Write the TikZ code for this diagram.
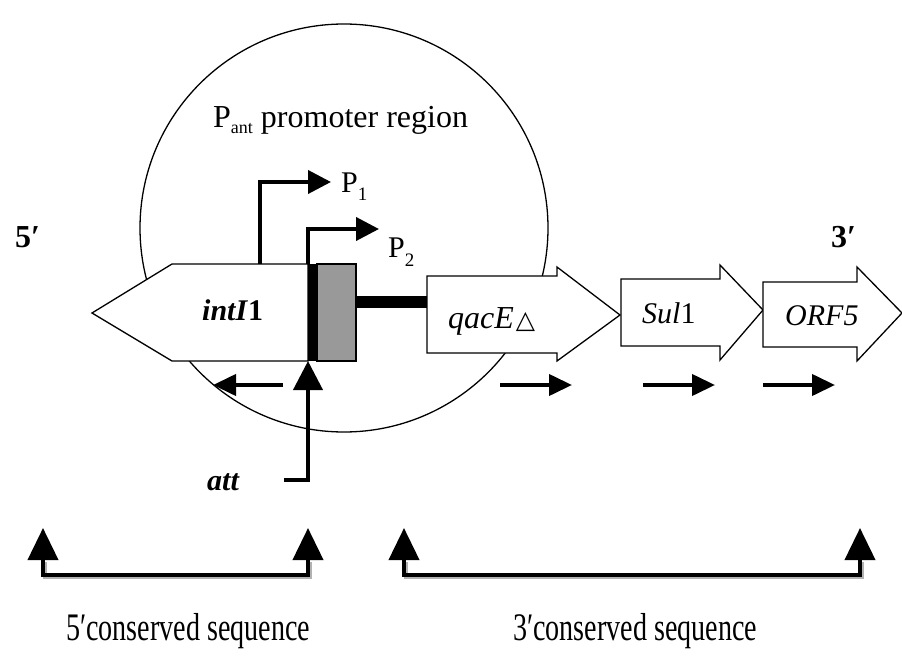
\documentclass[tikz,border=0pt]{standalone}
\usepackage{fontspec}
\setmainfont{Liberation Serif}
\newfontfamily\symfont{DejaVu Sans}
\usetikzlibrary{arrows.meta}
\begin{document}
\begin{tikzpicture}[x=1pt,y=-1pt,
  thin line/.style={line width=1.3pt},
  thick line/.style={line width=4pt},
  gene/.style={thin line, fill=white, line join=miter},
  promo/.style={thick line, -{Triangle[length=23pt,width=23pt]}},
  dirarrow/.style={thick line, -{Triangle[length=23pt,width=21pt]}},
  bigarrow/.style={thick line, {Triangle[length=32pt,width=30pt]}-{Triangle[length=32pt,width=30pt]}},
  shadowline/.style={line width=4pt, gray!60},
  lbl/.style={font=\fontsize{30}{30}\selectfont, inner sep=0pt, anchor=base west},
  primel/.style={font=\fontsize{32}{32}\selectfont\bfseries, inner sep=0pt, anchor=base west},
  bottomlbl/.style={font=\fontsize{39}{39}\selectfont, inner sep=0pt, anchor=base}
]
\useasboundingbox (0,0) rectangle (902,658);
% promoter region circle
\node[draw, thin line, circle, minimum size=408pt, inner sep=0pt] (circ) at (344,228) {};
\node[lbl, font=\fontsize{32}{32}\selectfont] (pant) at (213,128) {P\raisebox{-6pt}{\fontsize{18}{18}\selectfont ant} promoter region};

% intI1 gene (pointing left)
\draw[gene] (92,313) -- (172,264) -- (308,264) -- (308,361) -- (172,361) -- cycle;
\coordinate (intTop1) at (260,264);
\coordinate (intTop2) at (308,264);
\node[lbl, font=\fontsize{30}{30}\selectfont\bfseries\itshape] (intl) at (202,320) {intI\textup{1}};

% att site: black bar + gray box
\fill[black] (308,264) rectangle (317,361);
\draw[thin line, fill=gray!80] (317,264) rectangle (356,361);
\coordinate (boxR) at (356,302);
\coordinate (attTip) at (308,361);

% qacE gene
\draw[gene] (427,276) -- (557,276) -- (557,267) -- (620,315) -- (557,361) -- (557,353) -- (427,353) -- cycle;
\coordinate (qacL) at (427,302);
\node[lbl, font=\fontsize{32}{32}\selectfont\itshape] (qac) at (448,328) {qacE\kern2pt{\upshape\symfont\fontsize{25}{25}\selectfont △}};

% Sul1 gene
\draw[gene] (621,279) -- (720,279) -- (720,265) -- (763,310) -- (720,360) -- (720,346) -- (621,346) -- cycle;
\node[lbl, font=\fontsize{30}{30}\selectfont\itshape] (sul) at (642,323) {Sul\textup{1}};

% ORF5 gene
\draw[gene] (763,282) -- (857,282) -- (857,267) -- (902,313) -- (857,361) -- (857,347) -- (763,347) -- cycle;
\node[lbl, font=\fontsize{30}{30}\selectfont\itshape] (orf) at (785,325) {ORF5};

% thick connector box -> qacE
\draw[line width=12pt] (boxR) -- (qacL);

% promoters
\coordinate (p1e) at (331,182);
\coordinate (p2e) at (379,229);
\draw[promo] (intTop1) |- (p1e);
\draw[promo] (intTop2) |- (p2e);
\node[lbl, font=\fontsize{30}{30}\selectfont] (P1) at (341,192) {P\raisebox{-9pt}{\fontsize{19}{19}\selectfont 1}};
\node[lbl, font=\fontsize{30}{30}\selectfont] (P2) at (388,257) {P\raisebox{-9pt}{\fontsize{19}{19}\selectfont 2}};

% transcription direction arrows
\coordinate (d0a) at (283,385); \coordinate (d0b) at (213,385);
\coordinate (d1a) at (500,385); \coordinate (d1b) at (572,385);
\coordinate (d2a) at (643,385); \coordinate (d2b) at (715,385);
\coordinate (d3a) at (763,385); \coordinate (d3b) at (835,385);
\draw[dirarrow] (d0a) -- (d0b);
\draw[dirarrow] (d1a) -- (d1b);
\draw[dirarrow] (d2a) -- (d2b);
\draw[dirarrow] (d3a) -- (d3b);

% att arrow
\coordinate (attEnd) at (284,480);
\draw[thick line, -{Triangle[length=29pt,width=29pt]}] (attEnd) -| (attTip);
\node[lbl, font=\fontsize{30}{30}\selectfont\bfseries\itshape] (att) at (207,490) {att};

% 5' and 3'
\node[primel] (five) at (15,247) {5′};
\node[primel] (three) at (831,247) {3′};

% conserved sequence brackets
\coordinate (b1a) at (43,528); \coordinate (b1b) at (308,528);
\coordinate (b2a) at (404,528); \coordinate (b2b) at (860,528);
\draw[shadowline] (45,562) -- (45,577) -- (310,577) -- (310,562);
\draw[shadowline] (406,562) -- (406,577) -- (862,577) -- (862,562);
\draw[bigarrow] (b1a) -- (43,575) -- (308,575) -- (b1b);
\draw[bigarrow] (b2a) -- (404,575) -- (860,575) -- (b2b);
\node[bottomlbl] (cs5) at (188,640) {\scalebox{0.72}[1]{5′conserved sequence}};
\node[bottomlbl] (cs3) at (635,640) {\scalebox{0.72}[1]{3′conserved sequence}};
\end{tikzpicture}
\end{document}
